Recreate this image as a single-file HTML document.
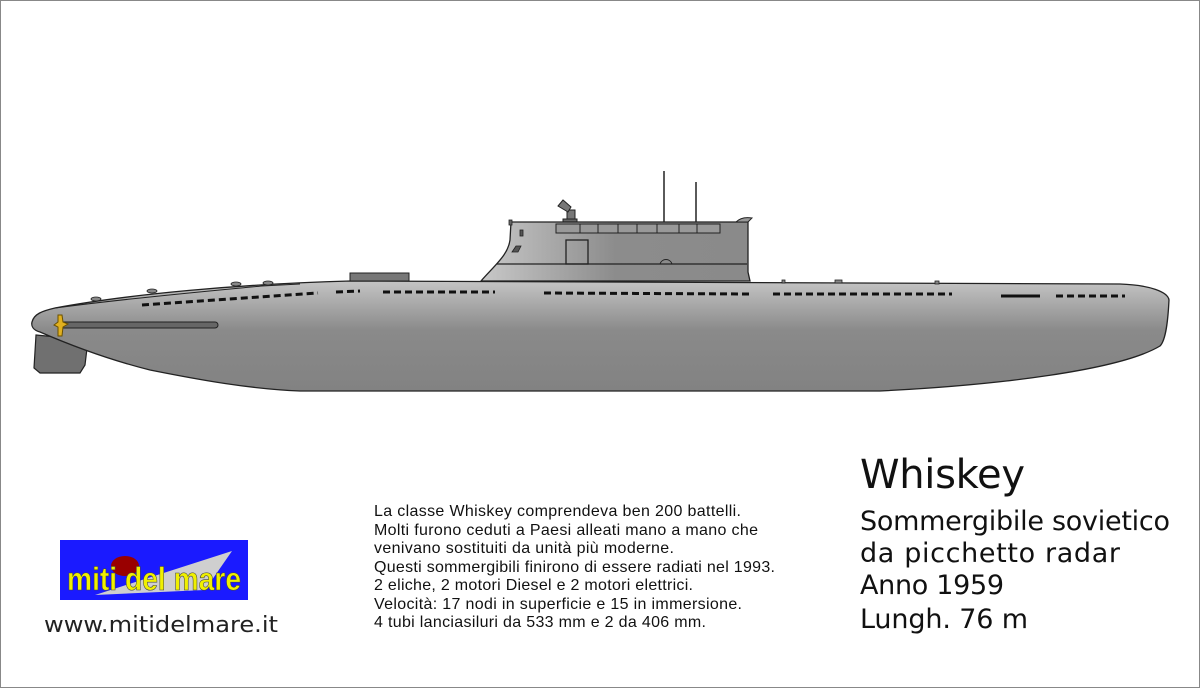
<!DOCTYPE html>
<html><head><meta charset="utf-8"><style>
html,body{margin:0;padding:0;background:#fff}
svg{display:block}
</style></head><body>
<svg width="1200" height="688" viewBox="0 0 1200 688" xmlns="http://www.w3.org/2000/svg">
<defs>
<linearGradient id="hull" x1="0" y1="0" x2="0" y2="1">
<stop offset="0" stop-color="#c4c4c4"/><stop offset="0.45" stop-color="#8a8a8a"/><stop offset="1" stop-color="#828282"/>
</linearGradient>
<linearGradient id="sail" x1="0" y1="0" x2="1" y2="0">
<stop offset="0" stop-color="#c8c8c8"/><stop offset="0.5" stop-color="#8c8c8c"/><stop offset="1" stop-color="#8a8a8a"/>
</linearGradient>
</defs>
<rect x="0.5" y="0.5" width="1199" height="687" fill="#fff" stroke="#888" stroke-width="1"/>
<!-- masts -->
<line x1="664" y1="171" x2="664" y2="224" stroke="#222" stroke-width="1.5"/>
<line x1="696" y1="182" x2="696" y2="224" stroke="#222" stroke-width="1.5"/>
<!-- radar -->
<rect x="567" y="210" width="8" height="10" fill="#777" stroke="#222"/>
<rect x="563" y="219" width="14" height="4" fill="#666" stroke="#222"/>
<path d="M558 206 L563 200 L571 207 L568 212 Z" fill="#777" stroke="#222"/>
<!-- sail -->
<path d="M481 281 C495 265 508 255 510 240 L511 222 L748 222 L748 272 L750 281 Z" fill="url(#sail)" stroke="#222" stroke-width="1.3"/>
<path d="M736 222 C740 218 746 217 752 218 L748 222 Z" fill="#999" stroke="#222" stroke-width="1"/>
<rect x="509" y="220" width="3" height="5" fill="#666" stroke="#222" stroke-width="0.8"/>
<line x1="497" y1="264" x2="747" y2="264" stroke="#222" stroke-width="1.3"/>
<rect x="566" y="240" width="22" height="24" fill="none" stroke="#222" stroke-width="1.3"/>
<rect x="520" y="230" width="3" height="6" fill="#555" stroke="#222" stroke-width="0.8"/>
<path d="M512 252 L516 246 L521 246 L518 252 Z" fill="#555" stroke="#222" stroke-width="0.8"/>
<path d="M660 264 C662 258 670 258 672 264" fill="none" stroke="#222"/>
<rect x="556" y="224" width="164" height="9" fill="#999" stroke="#222" stroke-width="1"/>
<g stroke="#222" stroke-width="1"><line x1="580" y1="224" x2="580" y2="233"/><line x1="598" y1="224" x2="598" y2="233"/><line x1="618" y1="224" x2="618" y2="233"/><line x1="637" y1="224" x2="637" y2="233"/><line x1="657" y1="224" x2="657" y2="233"/><line x1="679" y1="224" x2="679" y2="233"/><line x1="697" y1="224" x2="697" y2="233"/></g>
<!-- rudder -->
<path d="M36 335 L88 340 L85 365 L80 373 L40 373 L34 368 Z" fill="#707070" stroke="#222" stroke-width="1.2"/>
<!-- hull -->
<path d="M32 322 C34 314 42 311 55 308 C130 294 240 284 350 281 L1120 284 C1150 285 1168 292 1169 300 C1168 320 1166 340 1160 346 C1120 370 1000 385 880 391 L300 391 C250 389 200 380 150 370 C110 360 70 345 40 332 C33 330 31 326 32 322 Z" fill="url(#hull)" stroke="#222" stroke-width="1.3"/>
<path d="M55 308 C130 298 220 290 262 286 L300 284" fill="none" stroke="#222" stroke-width="1"/>
<!-- deck bumps -->
<rect x="350" y="273" width="59" height="8" fill="#777" stroke="#222" stroke-width="1"/>
<g fill="#888" stroke="#222" stroke-width="0.8">
<ellipse cx="96" cy="299" rx="5" ry="2"/><ellipse cx="152" cy="291" rx="5" ry="2"/><ellipse cx="236" cy="284" rx="5" ry="2"/><ellipse cx="268" cy="283" rx="5" ry="2"/>
<rect x="835" y="280" width="7" height="3"/><rect x="935" y="281" width="4" height="3"/><rect x="782" y="280" width="3" height="3"/>
</g>
<!-- dashed lines -->
<g stroke="#111" stroke-width="3" fill="none" stroke-dasharray="7,4">
<path d="M142 305 L318 293"/>
<path d="M336 292 L360 291"/>
<path d="M383 292 L495 292"/>
<path d="M544 293 L750 294"/>
<path d="M773 294 L952 294"/>
<path d="M1056 296 L1125 296"/>
</g>
<line x1="1001" y1="296" x2="1040" y2="296" stroke="#111" stroke-width="3"/>
<!-- shaft -->
<rect x="58" y="322" width="160" height="6" rx="3" fill="#666" stroke="#222" stroke-width="1"/>
<path d="M58 315 L62 315 L63 322 L68 324 L63 327 L62 336 L58 336 L58 327 L54 325 L58 322 Z" fill="#e0b020" stroke="#6a5000" stroke-width="1"/>
<!-- logo -->
<rect x="60" y="540" width="188" height="60" fill="#1a1aff"/>
<path d="M95 595 L232 551 L205 590 Z" fill="#cfcfcf"/>
<ellipse cx="125" cy="566" rx="14" ry="10" fill="#990000"/>
<text x="67" y="590" font-family="Liberation Sans, sans-serif" font-weight="bold" font-size="32" fill="#f0f000" stroke="#444" stroke-width="0.6" textLength="174" lengthAdjust="spacingAndGlyphs">miti del mare</text>
<text x="44" y="632" font-family="DejaVu Sans, sans-serif" font-size="22" fill="#222" textLength="234" lengthAdjust="spacingAndGlyphs">www.mitidelmare.it</text>
<!-- description -->
<g font-family="Liberation Sans, sans-serif" font-size="16" fill="#111" lengthAdjust="spacingAndGlyphs">
<text x="374" y="516" textLength="367">La classe Whiskey comprendeva ben 200 battelli.</text>
<text x="374" y="535" textLength="384">Molti furono ceduti a Paesi alleati mano a mano che</text>
<text x="374" y="553" textLength="300">venivano sostituiti da unità più moderne.</text>
<text x="374" y="572" textLength="401">Questi sommergibili finirono di essere radiati nel 1993.</text>
<text x="374" y="590" textLength="319">2 eliche, 2 motori Diesel e 2 motori elettrici.</text>
<text x="374" y="609" textLength="368">Velocità: 17 nodi in superficie e 15 in immersione.</text>
<text x="374" y="627" textLength="332">4 tubi lanciasiluri da 533 mm e 2 da 406 mm.</text>
</g>
<g font-family="DejaVu Sans, sans-serif" fill="#111" lengthAdjust="spacingAndGlyphs">
<text x="860" y="488" font-size="40" textLength="165">Whiskey</text>
<text x="860" y="530" font-size="27" textLength="310">Sommergibile sovietico</text>
<text x="860" y="562" font-size="27" textLength="260">da picchetto radar</text>
<text x="860" y="594" font-size="27" textLength="144">Anno 1959</text>
<text x="860" y="628" font-size="27" textLength="168">Lungh. 76 m</text>
</g>
</svg>
</body></html>
